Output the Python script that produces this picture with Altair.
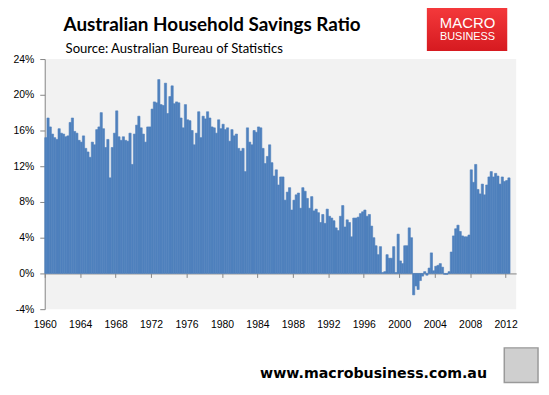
import altair as alt
import pandas as pd

# ---- data (quarterly household savings ratio, %) ----
start_year = 1960
ratio_1960s = [15.2, 17.4, 16.4, 15.6, 15.2, 15.0, 16.2, 15.7, 15.6, 15.3, 15.4, 16.9,
               17.4, 15.9, 15.7, 14.9, 14.7, 15.4, 14.0, 13.6, 13.0, 14.7, 14.4, 16.1,
               16.4, 18.0, 16.2, 14.1, 15.0, 10.7, 14.1, 15.7, 18.2, 15.3, 14.9, 15.3,
               14.9, 14.8, 15.7, 12.2]
ratio_1970s = [15.6, 16.6, 17.6, 16.3, 15.6, 14.7, 16.4, 16.4, 18.4, 19.2, 19.1, 21.7,
               18.9, 18.8, 21.3, 17.9, 19.8, 21.0, 19.0, 19.2, 19.1, 17.4, 16.3, 18.9,
               17.2, 17.1, 16.0, 14.4, 15.7, 18.1, 15.2, 17.6, 17.3, 18.1, 17.4, 16.4,
               16.3, 15.7, 17.2, 16.2]
ratio_1980s = [16.7, 16.1, 16.3, 14.8, 16.1, 15.4, 15.6, 14.0, 13.7, 14.0, 11.4, 16.3,
               14.7, 14.4, 16.0, 15.8, 16.4, 16.3, 14.0, 12.3, 13.1, 14.4, 12.4, 10.9,
               11.6, 9.9, 10.8, 10.8, 8.2, 9.1, 9.6, 7.1, 8.2, 8.8, 9.0, 7.3,
               9.6, 9.2, 8.4, 7.3]
ratio_1990s = [8.6, 7.0, 7.2, 6.8, 5.7, 6.6, 5.6, 7.2, 6.4, 6.2, 5.9, 5.1,
               4.8, 6.4, 7.6, 5.2, 6.0, 5.7, 4.1, 6.2, 6.2, 6.3, 6.7, 6.9,
               7.1, 6.4, 6.6, 5.3, 4.0, 3.1, 2.1, 3.0, 0.1, 0.2, 2.1, 1.7,
               1.7, 3.0, 0.1, 4.4]
ratio_2000s = [1.4, 1.1, 3.1, 3.1, 5.1, 4.0, -2.4, -1.4, -1.8, -0.8, -0.3, 0.2,
               -0.2, 0.6, 2.3, 0.3, 0.8, 0.9, 1.1, 0.7, -0.1, -0.1, 0.2, 2.4,
               4.2, 5.0, 5.4, 4.7, 4.2, 4.1, 4.1, 4.3, 11.6, 10.2, 12.2, 9.4,
               8.9, 10.0, 8.8, 9.9]
ratio_2010s = [10.8, 11.4, 10.8, 11.2, 10.9, 10.0, 10.8, 10.3, 10.4, 10.7]

x_tick_years = list(range(1960, 2013, 4))
y_tick_values = [-4, 0, 4, 8, 12, 16, 20, 24]

title_text = "Australian Household Savings Ratio"
subtitle_text = "Source: Australian Bureau of Statistics"
logo_top = "MACRO"
logo_bottom = "BUSINESS"
footer_text = "www.macrobusiness.com.au"

values = ratio_1960s + ratio_1970s + ratio_1980s + ratio_1990s + ratio_2000s + ratio_2010s
starts = [start_year + i / 4 for i in range(len(values))]
df = pd.DataFrame({"t": starts, "t_end": [s + 0.25 for s in starts], "ratio": values})

W, H = 475, 252
x_scale = alt.Scale(domain=[1960, 1960 + W / 8.93], nice=False, zero=False)
y_scale = alt.Scale(domain=[-4, 24], nice=False)
AX = "#868686"
BAR = "#4F81BD"
LABEL_FONT = "Liberation Sans"

bars = alt.Chart(df).mark_bar(color=BAR, stroke=BAR, strokeWidth=0.6).encode(
    x=alt.X("t:Q", scale=x_scale, axis=alt.Axis(
        values=x_tick_years, format="d", title=None, grid=False,
        offset=-36, domainColor=AX, tickColor=AX, tickSize=4,
        labelPadding=42, labelFlush=False, labelOverlap=False,
        labelFont=LABEL_FONT, labelFontSize=10.5, labelColor="#000000")),
    x2="t_end:Q",
    y=alt.Y("ratio:Q", scale=y_scale, axis=alt.Axis(
        values=y_tick_values, labelExpr="datum.value + '%'", title=None, grid=False,
        domainColor=AX, tickColor=AX, tickSize=5, labelPadding=6,
        labelFont=LABEL_FONT, labelFontSize=10.5, labelColor="#000000")),
    y2=alt.datum(0),
)

one = pd.DataFrame({"k": [0]})

title = alt.Chart(pd.DataFrame({"s": [title_text]})).mark_text(
    font="Lato", fontWeight="bold", fontSize=19, align="left", baseline="alphabetic",
    color="#000000").encode(x=alt.value(19), y=alt.value(-28), text="s:N")

subtitle = alt.Chart(pd.DataFrame({"s": [subtitle_text]})).mark_text(
    font="Lato", fontSize=13.2, align="left", baseline="alphabetic",
    color="#000000").encode(x=alt.value(21), y=alt.value(-6), text="s:N")

logo_box = alt.Chart(one).mark_rect(color=alt.Gradient(
    gradient="linear", x1=0, x2=0, y1=0, y2=1,
    stops=[alt.GradientStop(color="#F4393B", offset=0),
           alt.GradientStop(color="#D61A20", offset=1)])).encode(
    x=alt.value(385), x2=alt.value(466), y=alt.value(-52), y2=alt.value(-8))

logo_t1 = alt.Chart(pd.DataFrame({"s": [logo_top]})).mark_text(
    font="Liberation Sans", fontSize=15, align="center", baseline="alphabetic",
    color="#FFFFFF").encode(x=alt.value(426), y=alt.value(-31), text="s:N")

logo_t2 = alt.Chart(pd.DataFrame({"s": [logo_bottom]})).mark_text(
    font="Liberation Sans", fontSize=11, align="center", baseline="alphabetic",
    color="#FFFFFF").encode(x=alt.value(426), y=alt.value(-19), text="s:N")

footer = alt.Chart(pd.DataFrame({"s": [footer_text]})).mark_text(
    font="DejaVu Sans", fontWeight="bold", fontSize=14.3, align="left", baseline="alphabetic",
    color="#000000").encode(x=alt.value(217), y=alt.value(321), text="s:N")

wolf_box = alt.Chart(one).mark_rect(fill="#CFCFCF", stroke="#9A9A9A", strokeWidth=1.5).encode(
    x=alt.value(463), x2=alt.value(497), y=alt.value(291), y2=alt.value(326))

chart = alt.layer(
    bars, title, subtitle, logo_box, logo_t1, logo_t2, footer, wolf_box
).properties(
    width=W, height=H,
    autosize=alt.AutoSizeParams(type="none"),
    padding={"left": 37, "top": 50, "right": 25, "bottom": 77},
).configure_view(fill="#F2F2F2", strokeWidth=0)

chart.save("out.html", embed_options={"renderer": "svg", "actions": False})
